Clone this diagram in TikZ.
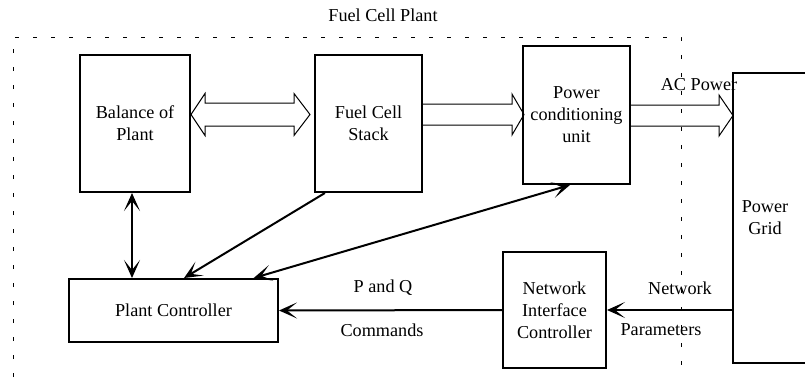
\documentclass[tikz,border=0pt]{standalone}
\usepackage{fontspec}
\setmainfont{Liberation Serif}
\usetikzlibrary{arrows.meta,calc}

\begin{document}
\begin{tikzpicture}[
    x=0.5pt, y=-0.5pt,
    plantblock/.style={rectangle, draw=black, line width=1pt, align=center, inner sep=1pt, font=\fontsize{9.1}{11}\selectfont},
    ctrlarrow/.style={>={Stealth[length=9pt,width=8pt,inset=5pt]}, line width=1pt},
    hollowarrow/.style={draw=black, line width=0.5pt, line join=miter},
    lbl/.style={inner sep=0pt, font=\fontsize{9.1}{11}\selectfont},
]
\useasboundingbox (0,0) rectangle (805,377);
\clip (0,0) rectangle (805,377);

% plant boundary
\draw[line width=0.5pt, dash pattern=on 2pt off 7pt] (13,377) -- (13,37) -- (681,37) -- (681,377);
\node[lbl] (plantlbl) at (383,15) {Fuel Cell Plant};

\node[plantblock, minimum width=55pt, minimum height=68.5pt] (bop) at (135,123.5) {Balance of\\Plant};
\node[plantblock, minimum width=53.5pt, minimum height=68.5pt] (fcs) at (368.5,123.5) {Fuel Cell\\Stack};
\node[plantblock, minimum width=53.5pt, minimum height=69pt] (pcu) at (576.5,115) {Power\\conditioning\\unit};
\node[plantblock, minimum width=50pt, minimum height=145pt, anchor=north west] (grid) at (732,72) {};
\node[lbl, align=center] (gridlbl) at (765,218) {Power\\Grid};

\node[plantblock, minimum width=104.5pt, minimum height=31.5pt] (pc) at (173.5,310.5) {Plant Controller};
\node[plantblock, minimum width=51.5pt, minimum height=58pt] (nic) at (554.5,310) {Network\\Interface\\Controller};

% power flow
\draw[hollowarrow] ($(bop.east)+(0,-9)$) -- ++(14,-21) -- ++(0,9.5) -- ++(89,0) -- ++(0,-9.5)
    -- ++(16,21) -- ++(-16,21) -- ++(0,-9.5) -- ++(-89,0) -- ++(0,9.5) -- cycle;
\draw[hollowarrow] ($(fcs.east)+(0,-19.5)$) -- ++(89,0) -- ++(0,-10) -- ++(12,20.5)
    -- ++(-12,20.5) -- ++(0,-10) -- ++(-89,0);
\draw[hollowarrow] ($(pcu.east)+(0,-10)$) -- ++(88,0) -- ++(0,-10) -- ++(14,20.5)
    -- ++(-14,20.5) -- ++(0,-10) -- ++(-88,0);
\node[lbl] (aclbl) at (699,85) {AC Power};

% control signals
\draw[ctrlarrow, <->] ($(bop.south)+(-3,0)$) -- ($(bop.south |- pc.north)+(-3,0)$);
\draw[ctrlarrow, ->] ($(fcs.south west)!0.1!(fcs.south east)$) -- ($(pc.north west)!0.55!(pc.north east)$);
\draw[ctrlarrow, <->] ($(pcu.south west)!0.44!(pcu.south east)$) -- ($(pc.north west)!0.88!(pc.north east)$);
\draw[ctrlarrow, ->] (grid.west |- nic.east) -- (nic.east);
\draw[ctrlarrow, ->] (nic.west) -- (pc.east);

\node[lbl] (pqlbl) at (383,288) {P and Q};
\node[lbl] (cmdlbl) at (382,330) {Commands};
\node[lbl] (netlbl) at (680,288) {Network};
\node[lbl] (parlbl) at (661,330) {Parameters};
\end{tikzpicture}
\end{document}
